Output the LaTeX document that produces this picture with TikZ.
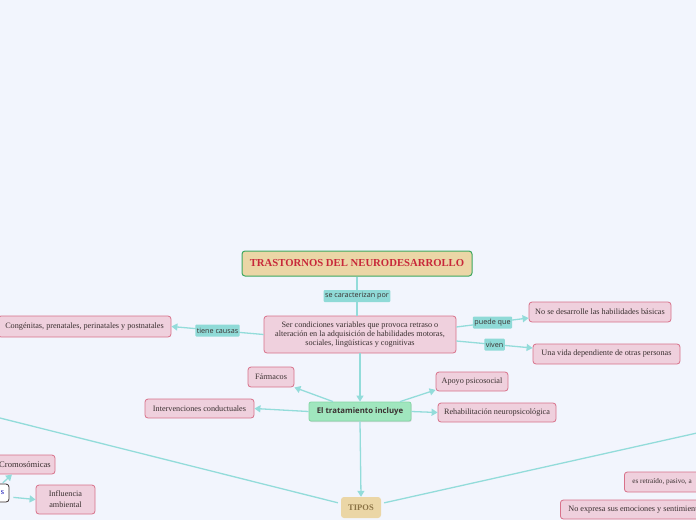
\documentclass[tikz,border=0pt]{standalone}
\usepackage{fontspec}
\setmainfont{Liberation Serif}
\setsansfont{Open Sans}
\usetikzlibrary{arrows.meta,shadows}
\definecolor{bg}{HTML}{F2F5FD}
\definecolor{pinkfill}{HTML}{EFD0DD}
\definecolor{pinkline}{HTML}{D8718A}
\definecolor{teal}{HTML}{8FDAD7}
\definecolor{tealline}{HTML}{93DCDA}
\definecolor{tanfill}{HTML}{EBD6A6}
\definecolor{titlegreen}{HTML}{3DA860}
\definecolor{titlered}{HTML}{C8283A}
\definecolor{greenfill}{HTML}{A0E6BE}
\definecolor{greenline}{HTML}{84D6A5}
\definecolor{tipostext}{HTML}{8B7345}
\definecolor{textdark}{HTML}{3A3030}
\tikzset{
  topic/.style={draw=pinkline, fill=pinkfill, line width=0.8pt, rounded corners=3pt,
    font=\fontsize{8.2}{9.2}\selectfont, text=textdark, inner sep=2pt, align=center},
  lbl/.style={fill=teal, rounded corners=1pt, font=\sffamily\fontsize{7.2}{8}\selectfont,
    text=textdark, inner sep=1.5pt, minimum height=12pt},
  conn/.style={draw=tealline, line width=1.3pt},
  arr/.style={conn, -{Triangle[width=7pt,length=6pt]}}
}
\begin{document}
\begin{tikzpicture}[x=1pt,y=-1pt]
\clip (0,0) rectangle (696,520);
\fill[bg] (0,0) rectangle (696,520);

% title
\node[draw=titlegreen, fill=tanfill, line width=1pt, rounded corners=3pt,
  minimum width=230pt, minimum height=25pt, text=titlered,
  font=\bfseries\fontsize{10.7}{12}\selectfont] (title) at (357,263.5) {TRASTORNOS DEL NEURODESARROLLO};

% main node
\node[topic, minimum width=192pt, minimum height=37pt] (ser) at (360,334.5)
  {Ser condiciones variables que provoca retraso o\\alteración en la adquisición de habilidades motoras,\\sociales, lingüísticas y cognitivas};

\node[topic, minimum width=173pt, minimum height=21pt] (cong) at (84.5,326.5)
  {Congénitas, prenatales, perinatales y postnatales};
\node[topic, minimum width=142pt, minimum height=20pt] (nose) at (600,312)
  {No se desarrolle las habilidades básicas};
\node[topic, minimum width=147pt, minimum height=20pt] (vida) at (606.5,354)
  {Una vida dependiente de otras personas};

% tratamiento
\node[draw=greenline, fill=greenfill, line width=0.8pt, rounded corners=2pt,
  minimum width=102pt, minimum height=19pt, text=textdark,
  font=\sffamily\bfseries\fontsize{7.8}{9}\selectfont,
  drop shadow={shadow xshift=0.6pt, shadow yshift=-1pt, opacity=0.25}] (trat) at (360,411.5) {El tratamiento incluye};

\node[topic, minimum width=46pt, minimum height=20pt] (farm) at (271,377) {Fármacos};
\node[topic, minimum width=109pt, minimum height=19pt] (interv) at (199.5,408.5) {Intervenciones conductuales};
\node[topic, minimum width=72pt, minimum height=19pt] (apoyo) at (472,381.5) {Apoyo psicosocial};
\node[topic, minimum width=118pt, minimum height=19pt] (rehab) at (497,412.5) {Rehabilitación neuropsicológica};

% tipos
\node[fill=tanfill, rounded corners=3pt, minimum width=40pt, minimum height=21pt,
  text=tipostext, font=\bfseries\fontsize{8.5}{9}\selectfont] (tipos) at (361,507.5) {TIPOS};

% lower left
\node[topic, minimum width=60pt, minimum height=19pt, font=\fontsize{8.6}{9.2}\selectfont] (crom) at (25,464.5) {Cromosómicas};
\node[draw=textdark, fill=white, line width=0.8pt, rounded corners=3pt,
  minimum height=18pt, text width=24pt, align=right, inner xsep=5pt,
  text=blue!70!black, font=\fontsize{8.2}{9}\selectfont] (gen) at (-8,493) {s};
\node[topic, minimum width=59pt, minimum height=29pt, font=\fontsize{8.2}{11}\selectfont] (infl) at (65.5,499.5) {Influencia\\ambiental};

% lower right
\node[topic, anchor=west, minimum height=20pt, inner xsep=8pt, font=\fontsize{7.2}{9}\selectfont] (retr) at (624,482) {es retraído, pasivo, a};
\node[topic, anchor=west, minimum height=19pt, inner xsep=8pt] (noexp) at (560,509.5) {No expresa sus emociones y sentimient};

\coordinate (leftend) at (-10,415.5);
\coordinate (rightend) at (706,431);

% connectors
\draw[conn] (title.south) -- (title.south |- ser.north) node[lbl, midway] (l1) {se caracterizan por};
\draw[arr] (ser.west) -- (cong.east) node[lbl, midway] (l2) {tiene causas};
\draw[arr] ([yshift=7.5pt]ser.east) -- ([yshift=-6pt]nose.west) node[lbl, pos=0.5] (l3) {puede que};
\draw[arr] ([yshift=-6.5pt]ser.east) -- ([yshift=6pt]vida.west) node[lbl, pos=0.5] (l4) {viven};
\draw[arr] (ser.south) -- (trat.north);
\draw[arr] ([xshift=-27pt]trat.north) -- (farm.south east);
\draw[arr] (trat.west) -- (interv.east);
\draw[arr] ([xshift=40pt]trat.north) -- ([yshift=1.5pt]apoyo.south west);
\draw[arr] (trat.east) -- (rehab.west);
\draw[arr] (trat.south) -- (tipos.north);
\draw[conn, shorten >=3pt] (leftend) -- ([yshift=4pt]tipos.west);
\draw[conn, shorten <=3pt] ([yshift=4pt]tipos.east) -- (rightend);
\draw[arr, shorten <=1pt] ([xshift=10pt]gen.north) -- ([xshift=-13pt]crom.south);
\draw[arr, shorten <=4pt] ([yshift=-4pt]gen.east) -- (infl.west);
\end{tikzpicture}
\end{document}
